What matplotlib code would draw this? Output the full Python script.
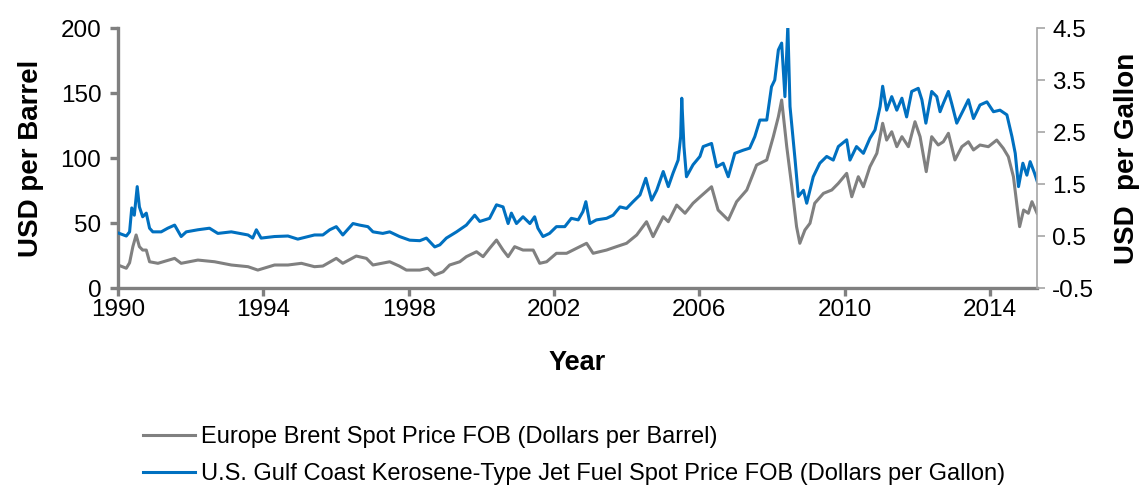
import matplotlib.pyplot as plt

plt.rcParams['font.family'] = ['Liberation Sans', 'DejaVu Sans']

# Europe Brent spot price, dollars per barrel
brent_year = [1990.00, 1990.23, 1990.32, 1990.41, 1990.50, 1990.59, 1990.68, 1990.78, 1990.87,
              1991.10, 1991.56, 1991.74, 1992.20, 1992.66, 1993.12, 1993.58, 1993.85, 1994.31,
              1994.68, 1995.05, 1995.41, 1995.64, 1996.01, 1996.19, 1996.56, 1996.84, 1997.02,
              1997.48, 1997.75, 1997.94, 1998.31, 1998.53, 1998.72, 1998.95, 1999.13, 1999.41,
              1999.59, 1999.87, 2000.05, 2000.23, 2000.42, 2000.60, 2000.74, 2000.92, 2001.15,
              2001.43, 2001.61, 2001.80, 2002.07, 2002.35, 2002.62, 2002.90, 2003.08, 2003.45,
              2003.72, 2004.00, 2004.28, 2004.55, 2004.73, 2005.01, 2005.15, 2005.38, 2005.61,
              2005.83, 2006.02, 2006.34, 2006.52, 2006.80, 2007.03, 2007.31, 2007.58, 2007.86,
              2008.04, 2008.18, 2008.27, 2008.41, 2008.55, 2008.68, 2008.77, 2008.91, 2009.05,
              2009.18, 2009.42, 2009.65, 2009.83, 2010.06, 2010.20, 2010.38, 2010.52, 2010.70,
              2010.89, 2011.05, 2011.16, 2011.30, 2011.44, 2011.58, 2011.76, 2011.94, 2012.08,
              2012.25, 2012.40, 2012.58, 2012.72, 2012.86, 2013.04, 2013.23, 2013.41, 2013.55,
              2013.73, 2013.96, 2014.19, 2014.37, 2014.51, 2014.65, 2014.74, 2014.82, 2014.93,
              2015.06, 2015.16, 2015.30]
brent = [17.7, 15.2, 19.4, 31.8, 40.8, 31.8, 29.2, 29.2, 20.2,
         19.0, 22.8, 19.0, 21.5, 20.2, 17.7, 16.4, 13.8, 17.7,
         17.7, 19.0, 16.4, 16.9, 22.8, 19.0, 24.6, 22.8, 17.7,
         20.2, 16.8, 13.8, 13.8, 15.2, 10.0, 12.5, 17.7, 20.2,
         24.1, 27.9, 24.1, 30.5, 36.9, 29.2, 24.1, 31.8, 29.2,
         29.2, 19.0, 20.2, 26.7, 26.7, 30.5, 34.4, 26.7, 29.2,
         31.8, 34.4, 40.8, 51.0, 39.5, 54.8, 51.0, 63.8, 57.5,
         65.2, 70.0, 77.9, 60.0, 52.3, 66.4, 75.4, 94.6, 98.5,
         116.4, 131.8, 144.6, 108.7, 77.9, 47.2, 34.4, 44.6, 49.8,
         65.2, 72.8, 75.4, 80.5, 88.2, 70.2, 85.6, 77.9, 93.3,
         103.6, 126.7, 113.8, 120.2, 108.7, 116.4, 108.7, 127.9, 116.4,
         89.5, 116.4, 110.0, 112.5, 119.0, 98.5, 108.7, 112.5, 106.2,
         110.0, 108.7, 113.8, 107.5, 101.0, 85.6, 65.2, 47.2, 60.0,
         57.5, 66.4, 57.5]

# U.S. Gulf Coast kerosene-type jet fuel spot price, dollars per gallon
jet_year = [1990.00, 1990.23, 1990.32, 1990.38, 1990.45, 1990.53, 1990.59, 1990.68, 1990.78,
            1990.87, 1990.96, 1991.19, 1991.37, 1991.56, 1991.74, 1991.88, 1992.20, 1992.52,
            1992.75, 1993.12, 1993.58, 1993.71, 1993.81, 1993.94, 1994.31, 1994.68, 1994.95,
            1995.41, 1995.64, 1995.83, 1996.01, 1996.19, 1996.47, 1996.65, 1996.88, 1997.02,
            1997.29, 1997.48, 1997.75, 1998.03, 1998.31, 1998.49, 1998.72, 1998.86, 1999.04,
            1999.32, 1999.59, 1999.82, 1999.96, 2000.23, 2000.42, 2000.60, 2000.74, 2000.83,
            2000.97, 2001.15, 2001.34, 2001.47, 2001.56, 2001.70, 2001.88, 2002.07, 2002.30,
            2002.48, 2002.67, 2002.80, 2002.88, 2002.99, 2003.17, 2003.45, 2003.63, 2003.82,
            2004.00, 2004.18, 2004.37, 2004.53, 2004.69, 2004.83, 2005.01, 2005.15, 2005.28,
            2005.42, 2005.49, 2005.52, 2005.58, 2005.65, 2005.83, 2006.02, 2006.11, 2006.34,
            2006.48, 2006.66, 2006.80, 2006.98, 2007.21, 2007.39, 2007.53, 2007.67, 2007.86,
            2007.99, 2008.08, 2008.18, 2008.27, 2008.36, 2008.44, 2008.50, 2008.64, 2008.73,
            2008.87, 2008.96, 2009.14, 2009.32, 2009.51, 2009.69, 2009.83, 2010.06, 2010.15,
            2010.33, 2010.52, 2010.70, 2010.84, 2010.98, 2011.05, 2011.16, 2011.30, 2011.44,
            2011.58, 2011.71, 2011.85, 2012.03, 2012.13, 2012.24, 2012.40, 2012.54, 2012.63,
            2012.72, 2012.86, 2012.95, 2013.09, 2013.27, 2013.41, 2013.55, 2013.73, 2013.92,
            2014.10, 2014.28, 2014.47, 2014.61, 2014.70, 2014.79, 2014.91, 2015.02, 2015.11,
            2015.23, 2015.31]
jet = [0.56, 0.50, 0.58, 1.04, 0.90, 1.45, 1.06, 0.87, 0.94,
       0.65, 0.58, 0.58, 0.65, 0.71, 0.49, 0.58, 0.62, 0.65,
       0.55, 0.58, 0.52, 0.46, 0.62, 0.46, 0.49, 0.50, 0.44,
       0.52, 0.52, 0.62, 0.68, 0.52, 0.74, 0.71, 0.68, 0.58,
       0.55, 0.58, 0.49, 0.42, 0.41, 0.46, 0.29, 0.33, 0.46,
       0.58, 0.71, 0.90, 0.78, 0.84, 1.10, 1.06, 0.74, 0.94,
       0.74, 0.87, 0.74, 0.87, 0.65, 0.49, 0.55, 0.68, 0.68,
       0.84, 0.81, 0.97, 1.16, 0.74, 0.81, 0.84, 0.90, 1.06,
       1.03, 1.16, 1.29, 1.61, 1.19, 1.38, 1.74, 1.45, 1.71,
       1.96, 2.41, 3.15, 2.22, 1.64, 1.87, 2.03, 2.22, 2.28,
       1.83, 1.90, 1.64, 2.09, 2.15, 2.19, 2.41, 2.73, 2.73,
       3.37, 3.50, 4.08, 4.21, 3.18, 4.55, 2.99, 1.96, 1.26,
       1.38, 1.13, 1.64, 1.90, 2.03, 1.96, 2.22, 2.35, 1.96,
       2.22, 2.09, 2.38, 2.54, 2.99, 3.38, 2.92, 3.18, 2.92,
       3.15, 2.79, 3.28, 3.34, 3.12, 2.67, 3.28, 3.18, 2.89,
       3.05, 3.28, 3.05, 2.67, 2.92, 3.12, 2.76, 3.02, 3.08,
       2.89, 2.92, 2.83, 2.41, 2.09, 1.45, 1.90, 1.67, 1.93,
       1.71, 1.54]

year_ticks = [1990, 1994, 1998, 2002, 2006, 2010, 2014]
barrel_ticks = [0, 50, 100, 150, 200]
gallon_ticks = [-0.5, 0.5, 1.5, 2.5, 3.5, 4.5]

gray = '#808080'
blue = '#0070C0'

fig = plt.figure(figsize=(11.43, 4.87), dpi=100)
ax = fig.add_axes([0.1032, 0.4086, 0.8041, 0.5339])
ax2 = ax.twinx()

l1, = ax.plot(brent_year, brent, color=gray, lw=2.2,
              label='Europe Brent Spot Price FOB (Dollars per Barrel)')
l2, = ax2.plot(jet_year, jet, color=blue, lw=2.2,
               label='U.S. Gulf Coast Kerosene-Type Jet Fuel Spot Price FOB (Dollars per Gallon)')

ax.set_xlim(1990, 2015.3)
ax.set_ylim(0, 200)
ax2.set_ylim(-0.5, 4.5)
ax.set_xticks(year_ticks)
ax.set_yticks(barrel_ticks)
ax2.set_yticks(gallon_ticks)
ax2.set_yticklabels([f'{v:.1f}' for v in gallon_ticks])

for a in (ax, ax2):
    a.spines['top'].set_visible(False)
ax.spines['left'].set_color(gray)
ax.spines['left'].set_linewidth(2.4)
ax.spines['bottom'].set_color(gray)
ax.spines['bottom'].set_linewidth(2.4)
ax.spines['right'].set_visible(False)
ax2.spines['left'].set_visible(False)
ax2.spines['bottom'].set_visible(False)
ax2.spines['right'].set_color('#a6a6a6')
ax2.spines['right'].set_linewidth(1.2)

ax.tick_params(axis='x', labelsize=17.5, color=gray, width=2.4, length=6, pad=2)
ax.tick_params(axis='y', labelsize=17.5, color=gray, width=2.4, length=6, pad=6)
ax2.tick_params(axis='y', labelsize=17.5, color='#a6a6a6', width=1.2, length=6, pad=5)

ax.set_xlabel('Year', fontsize=19.5, fontweight='bold', labelpad=21)
ax.set_ylabel('USD per Barrel', fontsize=20, fontweight='bold', labelpad=12)
ax2.set_ylabel('USD  per Gallon', fontsize=20, fontweight='bold', labelpad=14)

fig.legend(handles=[l1, l2], loc='upper left', bbox_to_anchor=(0.117, 0.145),
           frameon=False, fontsize=17, handlelength=2.2, handletextpad=0.25,
           labelspacing=0.65, borderaxespad=0)

fig.savefig('out.png', dpi=100)
